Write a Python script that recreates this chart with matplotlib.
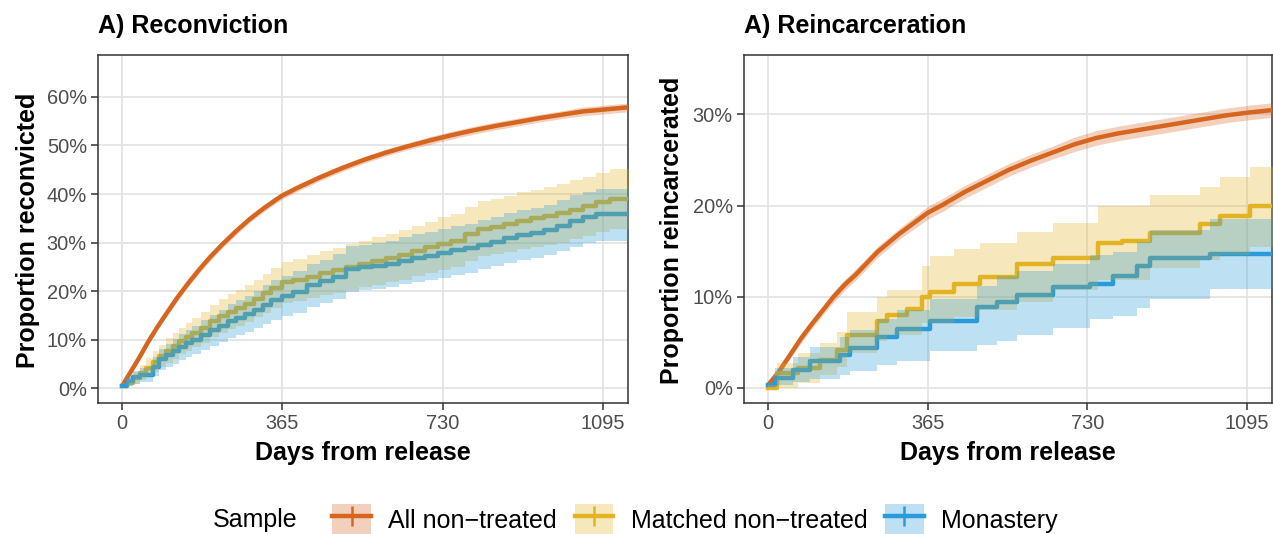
"""
Kaplan-Meier style cumulative recidivism curves: reconviction and reincarceration
for all non-treated, matched non-treated and monastery samples.
"""

import matplotlib
matplotlib.use("Agg")
import matplotlib.pyplot as plt
from matplotlib.patches import Patch
from matplotlib.lines import Line2D
from matplotlib.legend_handler import HandlerTuple

plt.rcParams['font.family'] = ['Liberation Sans', 'DejaVu Sans']

# ---- colours ----
C_ALL = '#D6651F'
C_MATCH = '#E2B324'
C_MON = '#2A9BD8'

# ---- Reconviction (percent) ----
rc_all_days = [0, 20, 40, 60, 80, 100, 125, 150, 175, 200, 230, 260, 290, 320, 350, 365,
               400, 450, 500, 550, 600, 650, 700, 750, 800, 850, 900, 950, 1000, 1050, 1100, 1160]
rc_all = [0.5, 3.5, 6.5, 9.7, 12.6, 15.3, 18.6, 21.6, 24.4, 27.0, 29.8, 32.4, 34.8, 36.9, 38.8, 39.7,
          41.3, 43.4, 45.3, 47.0, 48.5, 49.8, 51.0, 52.1, 53.1, 54.0, 54.8, 55.6, 56.3, 57.0, 57.4, 57.9]
rc_all_lo = [0.3, 3.0, 5.9, 9.1, 12.0, 14.7, 17.9, 20.9, 23.7, 26.3, 29.1, 31.7, 34.1, 36.2, 38.1, 39.0,
             40.6, 42.7, 44.6, 46.3, 47.8, 49.1, 50.2, 51.3, 52.3, 53.2, 54.0, 54.8, 55.5, 56.1, 56.5, 57.0]
rc_all_hi = [0.7, 4.0, 7.1, 10.3, 13.2, 15.9, 19.3, 22.3, 25.1, 27.7, 30.5, 33.1, 35.5, 37.6, 39.5, 40.4,
             42.0, 44.1, 46.0, 47.7, 49.2, 50.5, 51.8, 52.9, 53.9, 54.8, 55.6, 56.4, 57.1, 57.9, 58.3, 58.8]

rc_days = [0, 12, 25, 40, 55, 70, 85, 100, 115, 130, 145, 160, 180, 200, 220, 240, 260, 280, 300, 320,
           340, 365, 390, 420, 450, 480, 510, 540, 570, 600, 630, 660, 690, 720, 750, 780, 810, 840,
           870, 900, 930, 960, 990, 1020, 1050, 1080, 1110, 1160]
rc_match = [0.5, 1.2, 2.2, 3.2, 4.3, 5.5, 6.7, 7.8, 8.7, 9.7, 10.6, 11.5, 12.5, 13.8, 14.8, 15.8, 16.5,
            17.4, 18.5, 19.6, 20.7, 21.8, 22.3, 23.0, 23.7, 24.3, 25.0, 25.6, 26.2, 26.8, 27.5, 28.3,
            29.0, 29.8, 30.4, 31.8, 32.9, 33.3, 33.8, 34.5, 35.0, 35.5, 36.0, 36.8, 37.5, 38.3, 39.0, 39.6]
rc_match_hi = [0.5, 2.0, 3.4, 4.8, 6.2, 7.6, 9.0, 10.3, 11.3, 12.4, 13.5, 14.5, 15.7, 17.1, 18.3, 19.4,
               20.2, 21.2, 22.4, 23.6, 24.8, 26.0, 26.6, 27.4, 28.2, 28.9, 29.7, 30.4, 31.1, 31.8, 32.6,
               33.5, 34.3, 35.2, 35.9, 37.4, 38.6, 39.0, 39.6, 40.4, 40.9, 41.5, 42.0, 42.9, 43.6, 44.4,
               45.1, 45.7]
rc_match_lo = [0.5, 0.5, 1.0, 1.7, 2.5, 3.4, 4.4, 5.3, 6.1, 7.0, 7.7, 8.5, 9.3, 10.5, 11.3, 12.2, 12.8,
               13.6, 14.6, 15.6, 16.6, 17.6, 18.0, 18.6, 19.2, 19.7, 20.3, 20.8, 21.3, 21.8, 22.4, 23.1,
               23.7, 24.4, 25.0, 26.2, 27.2, 27.6, 28.0, 28.6, 29.1, 29.5, 30.0, 30.7, 31.4, 32.2, 32.9,
               33.5]
rc_mon = [0.5, 1.5, 2.3, 2.7, 2.8, 4.5, 6.0, 6.8, 7.6, 8.5, 9.3, 10.0, 11.0, 12.0, 12.8, 13.8, 14.5,
          15.3, 16.2, 17.2, 18.2, 19.0, 19.8, 21.2, 22.0, 23.0, 24.6, 24.9, 25.2, 25.6, 26.3, 26.8,
          27.2, 27.8, 28.4, 28.8, 29.6, 30.2, 31.0, 31.6, 32.0, 32.6, 33.5, 34.4, 35.2, 35.8, 35.8, 35.8]
rc_mon_hi = [0.5, 2.4, 3.6, 4.2, 4.5, 6.5, 8.2, 9.2, 10.1, 11.2, 12.1, 12.9, 14.1, 15.2, 16.1, 17.3,
             18.1, 19.0, 20.0, 21.2, 22.3, 23.2, 24.1, 25.6, 26.5, 27.6, 29.3, 29.6, 29.9, 30.4, 31.1,
             31.7, 32.1, 32.8, 33.4, 33.8, 34.7, 35.3, 36.1, 36.8, 37.2, 37.8, 38.8, 39.7, 40.5, 41.1,
             41.1, 41.1]
rc_mon_lo = [0.5, 0.6, 1.0, 1.3, 1.3, 2.5, 3.7, 4.4, 5.1, 5.8, 6.5, 7.1, 7.9, 8.8, 9.5, 10.3, 10.9,
             11.6, 12.4, 13.2, 14.1, 14.8, 15.5, 16.8, 17.5, 18.4, 19.9, 20.2, 20.5, 20.8, 21.5, 21.9,
             22.3, 22.8, 23.4, 23.8, 24.5, 25.1, 25.8, 26.4, 26.8, 27.4, 28.2, 29.1, 29.9, 30.4, 30.4, 30.4]

# ---- Reincarceration (percent) ----
ri_all_days = [0, 25, 50, 75, 100, 125, 150, 175, 200, 250, 300, 365, 400, 450, 500, 550, 600,
               650, 700, 750, 800, 850, 900, 950, 1000, 1050, 1100, 1160]
ri_all = [0.3, 1.8, 3.6, 5.4, 7.0, 8.5, 10.0, 11.3, 12.4, 14.9, 16.9, 19.2, 20.1, 21.5, 22.7, 23.9, 24.9,
          25.8, 26.7, 27.4, 27.9, 28.3, 28.7, 29.1, 29.5, 29.9, 30.2, 30.5]
ri_all_lo = [0.2, 1.5, 3.2, 4.9, 6.5, 8.0, 9.4, 10.7, 11.8, 14.3, 16.3, 18.5, 19.4, 20.8, 22.0, 23.2, 24.2,
             25.1, 25.9, 26.6, 27.1, 27.5, 27.9, 28.3, 28.7, 29.1, 29.4, 29.7]
ri_all_hi = [0.4, 2.1, 4.0, 5.9, 7.5, 9.0, 10.6, 11.9, 13.0, 15.5, 17.5, 19.9, 20.8, 22.2, 23.4, 24.6, 25.6,
             26.5, 27.5, 28.2, 28.7, 29.1, 29.5, 29.9, 30.3, 30.7, 31.0, 31.3]

ri_match_days = [0, 20, 69, 119, 157, 180, 248, 271, 317, 351, 370, 424, 485, 568, 652,
                 755, 808, 873, 987, 1033, 1102, 1160]
ri_match = [0.0, 1.6, 2.2, 3.1, 4.2, 5.8, 7.3, 8.0, 8.7, 10.0, 10.5, 11.4, 12.2, 13.6, 14.3,
            15.9, 16.1, 17.0, 18.0, 18.9, 20.0, 20.0]
ri_match_hi = [0.3, 2.7, 3.8, 4.9, 6.1, 8.3, 10.0, 10.7, 10.7, 13.4, 14.5, 15.2, 15.9, 17.1, 18.1,
               20.0, 20.0, 21.1, 22.0, 23.1, 24.2, 24.2]
ri_match_lo = [0.0, 0.0, 0.5, 1.4, 2.3, 3.8, 5.2, 5.8, 5.8, 7.1, 7.1, 7.8, 8.5, 9.4, 10.7,
               11.8, 11.8, 13.2, 14.0, 14.6, 15.5, 15.5]

ri_mon_days = [0, 16, 58, 96, 165, 187, 248, 294, 370, 477, 523, 568, 652, 736, 789,
               843, 873, 1010, 1160]
ri_mon = [0.3, 1.1, 2.0, 2.9, 3.6, 4.4, 5.6, 6.5, 7.3, 8.9, 9.4, 10.2, 11.1, 11.4, 12.3,
          13.4, 14.3, 14.7, 14.7]
ri_mon_hi = [0.3, 2.2, 3.4, 4.5, 5.6, 6.4, 7.6, 8.6, 9.7, 11.2, 12.3, 12.8, 13.6, 14.6, 14.9,
             16.0, 17.3, 18.5, 18.5]
ri_mon_lo = [0.3, 0.3, 0.6, 1.0, 1.4, 1.9, 2.5, 3.0, 4.0, 4.7, 5.2, 5.8, 6.6, 7.6, 7.9,
             8.8, 9.8, 10.8, 10.8]

x_ticks = [0, 365, 730, 1095]
legend_labels = ['All non\u2212treated', 'Matched non\u2212treated', 'Monastery']

BAND_ALPHA = 0.3
LW = 3.2


def style_axes(ax, yticks, ylim):
    ax.set_xlim(-55, 1152)
    ax.set_ylim(*ylim)
    ax.set_xticks(x_ticks)
    ax.set_xticklabels([str(t) for t in x_ticks])
    ax.set_yticks(yticks)
    ax.set_yticklabels([f"{t}%" for t in yticks])
    ax.grid(True, color='#E4E4E4', linewidth=1.3)
    ax.set_axisbelow(True)
    for s in ax.spines.values():
        s.set_color('#333333')
        s.set_linewidth(1.1)
    ax.tick_params(axis='both', length=5, width=1.1, color='#333333',
                   labelsize=14.4, labelcolor='#4D4D4D', pad=3)


def draw_panel(ax, all_d, all_v, all_lo, all_hi, m_d, m_v, m_lo, m_hi, b_d, b_v, b_lo, b_hi):
    # lines first, ribbons drawn over them (as in the original)
    ax.plot(all_d, all_v, color=C_ALL, lw=LW, solid_capstyle='butt', zorder=3)
    ax.step(m_d, m_v, where='post', color=C_MATCH, lw=LW, zorder=3)
    ax.step(b_d, b_v, where='post', color=C_MON, lw=LW, zorder=3)
    ax.fill_between(all_d, all_lo, all_hi, color=C_ALL, alpha=BAND_ALPHA, lw=0, zorder=4)
    ax.fill_between(m_d, m_lo, m_hi, step='post', color=C_MATCH, alpha=BAND_ALPHA, lw=0, zorder=4)
    ax.fill_between(b_d, b_lo, b_hi, step='post', color=C_MON, alpha=BAND_ALPHA, lw=0, zorder=4)


fig = plt.figure(figsize=(12.73, 5.34), dpi=100)
W, H = 1273, 534

ax1 = fig.add_axes([98 / W, 1 - 403 / H, 530 / W, 348 / H])
ax2 = fig.add_axes([744 / W, 1 - 403 / H, 528 / W, 348 / H])

draw_panel(ax1, rc_all_days, rc_all, rc_all_lo, rc_all_hi,
           rc_days, rc_match, rc_match_lo, rc_match_hi,
           rc_days, rc_mon, rc_mon_lo, rc_mon_hi)
style_axes(ax1, [0, 10, 20, 30, 40, 50, 60], (-3.0, 68.6))

draw_panel(ax2, ri_all_days, ri_all, ri_all_lo, ri_all_hi,
           ri_match_days, ri_match, ri_match_lo, ri_match_hi,
           ri_mon_days, ri_mon, ri_mon_lo, ri_mon_hi)
style_axes(ax2, [0, 10, 20, 30], (-1.65, 36.5))

# titles and axis labels
title_kw = dict(fontsize=18, fontweight='bold', color='black', va='center')
fig.text(98 / W, 1 - 26 / H, 'A) Reconviction', ha='left', **title_kw)
fig.text(744 / W, 1 - 26 / H, 'A) Reincarceration', ha='left', **title_kw)

lab_kw = dict(fontsize=18, fontweight='bold', color='black', ha='center', va='center')
fig.text(363 / W, 1 - 453 / H, 'Days from release', **lab_kw)
fig.text(1008 / W, 1 - 453 / H, 'Days from release', **lab_kw)
fig.text(28 / W, 1 - 230 / H, 'Proportion reconvicted', rotation=90, **lab_kw)
fig.text(672 / W, 1 - 230 / H, 'Proportion reincarcerated', rotation=90, **lab_kw)

# legend at the bottom
handles = []
for c in [C_ALL, C_MATCH, C_MON]:
    p = Patch(facecolor=c, alpha=BAND_ALPHA, edgecolor='none')
    ln = Line2D([], [], color=c, lw=LW, marker='+', markersize=14, markeredgewidth=1.8)
    handles.append((p, ln))

fig.text(213 / W, 1 - 520 / H, 'Sample', fontsize=18, ha='left', va='center')
fig.legend(handles, legend_labels, handler_map={tuple: HandlerTuple(ndivide=1, pad=0)},
           loc='center', bbox_to_anchor=(695 / W, 1 - 520 / H), ncol=3, frameon=False,
           fontsize=18, handlelength=1.55, handleheight=1.55, handletextpad=0.7,
           columnspacing=0.7, borderpad=0, borderaxespad=0)

fig.savefig('out.png', dpi=100)
